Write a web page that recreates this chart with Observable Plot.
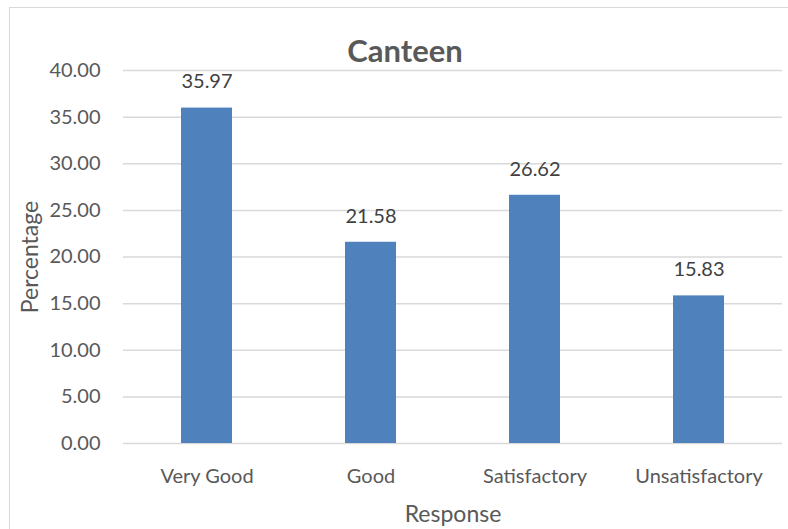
<!DOCTYPE html>
<html>
<head>
<meta charset="utf-8">
<script src="https://cdn.jsdelivr.net/npm/d3@7"></script>
<script src="https://cdn.jsdelivr.net/npm/@observablehq/plot@0.6"></script>
<style>
  html, body { margin: 0; padding: 0; background: #fff; }
  #wrap { position: relative; width: 788px; height: 529px; overflow: hidden; }
  #border { position: absolute; left: 9px; top: 7px; width: 800px; height: 540px;
            border-left: 1.5px solid #d9d9d9; border-top: 1.5px solid #d9d9d9; box-sizing: border-box; }
  #chart { position: absolute; left: 0; top: 0; }
</style>
</head>
<body>
<div id="wrap"><div id="border"></div><div id="chart"></div></div>
<script>
const categories = ["Very Good", "Good", "Satisfactory", "Unsatisfactory"];
const values = [35.97, 21.58, 26.62, 15.83];
const yTicks = [0, 5, 10, 15, 20, 25, 30, 35, 40];
const title = "Canteen";
const xLabel = "Response";
const yLabel = "Percentage";

const data = categories.map((c, i) => ({category: c, value: values[i]}));
const font = "Lato, 'Open Sans', sans-serif";

const chart = Plot.plot({
  width: 788,
  height: 529,
  marginLeft: 123,
  marginRight: 6,
  marginTop: 70,
  marginBottom: 86,
  style: {fontFamily: font, fontSize: "20px", color: "#595959", background: "transparent", overflow: "visible"},
  x: {domain: categories, paddingInner: 0.69, paddingOuter: 0.345},
  y: {domain: [0, 40]},
  marks: [
    Plot.gridY(yTicks, {stroke: "#d9d9d9", strokeOpacity: 1, strokeWidth: 1.5}),
    Plot.barY(data, {x: "category", y: "value", fill: "#4f81bd"}),
    Plot.axisY({ticks: yTicks, tickFormat: d => d.toFixed(2), tickSize: 0, tickPadding: 23, label: null, fontSize: 20, fill: "#595959"}),
    Plot.axisX({tickSize: 0, tickPadding: 25, label: null, fontSize: 20, fill: "#595959"}),
    Plot.text(data, {x: "category", y: "value", text: d => d.value.toFixed(2), dy: -26, fontSize: 20, fill: "#404040", lineAnchor: "middle"}),
    Plot.text([title], {frameAnchor: "top", lineAnchor: "middle", textAnchor: "middle", dx: -48, dy: -18, fontSize: 31, fontWeight: "bold", fill: "#595959"}),
    Plot.text([xLabel], {frameAnchor: "bottom", lineAnchor: "middle", textAnchor: "middle", dy: 71.5, fontSize: 23, fill: "#595959"}),
    Plot.text([yLabel], {frameAnchor: "left", lineAnchor: "middle", textAnchor: "middle", dx: -93, rotate: -90, fontSize: 23, fill: "#595959"})
  ]
});
document.getElementById("chart").appendChild(chart);
</script>
</body>
</html>
